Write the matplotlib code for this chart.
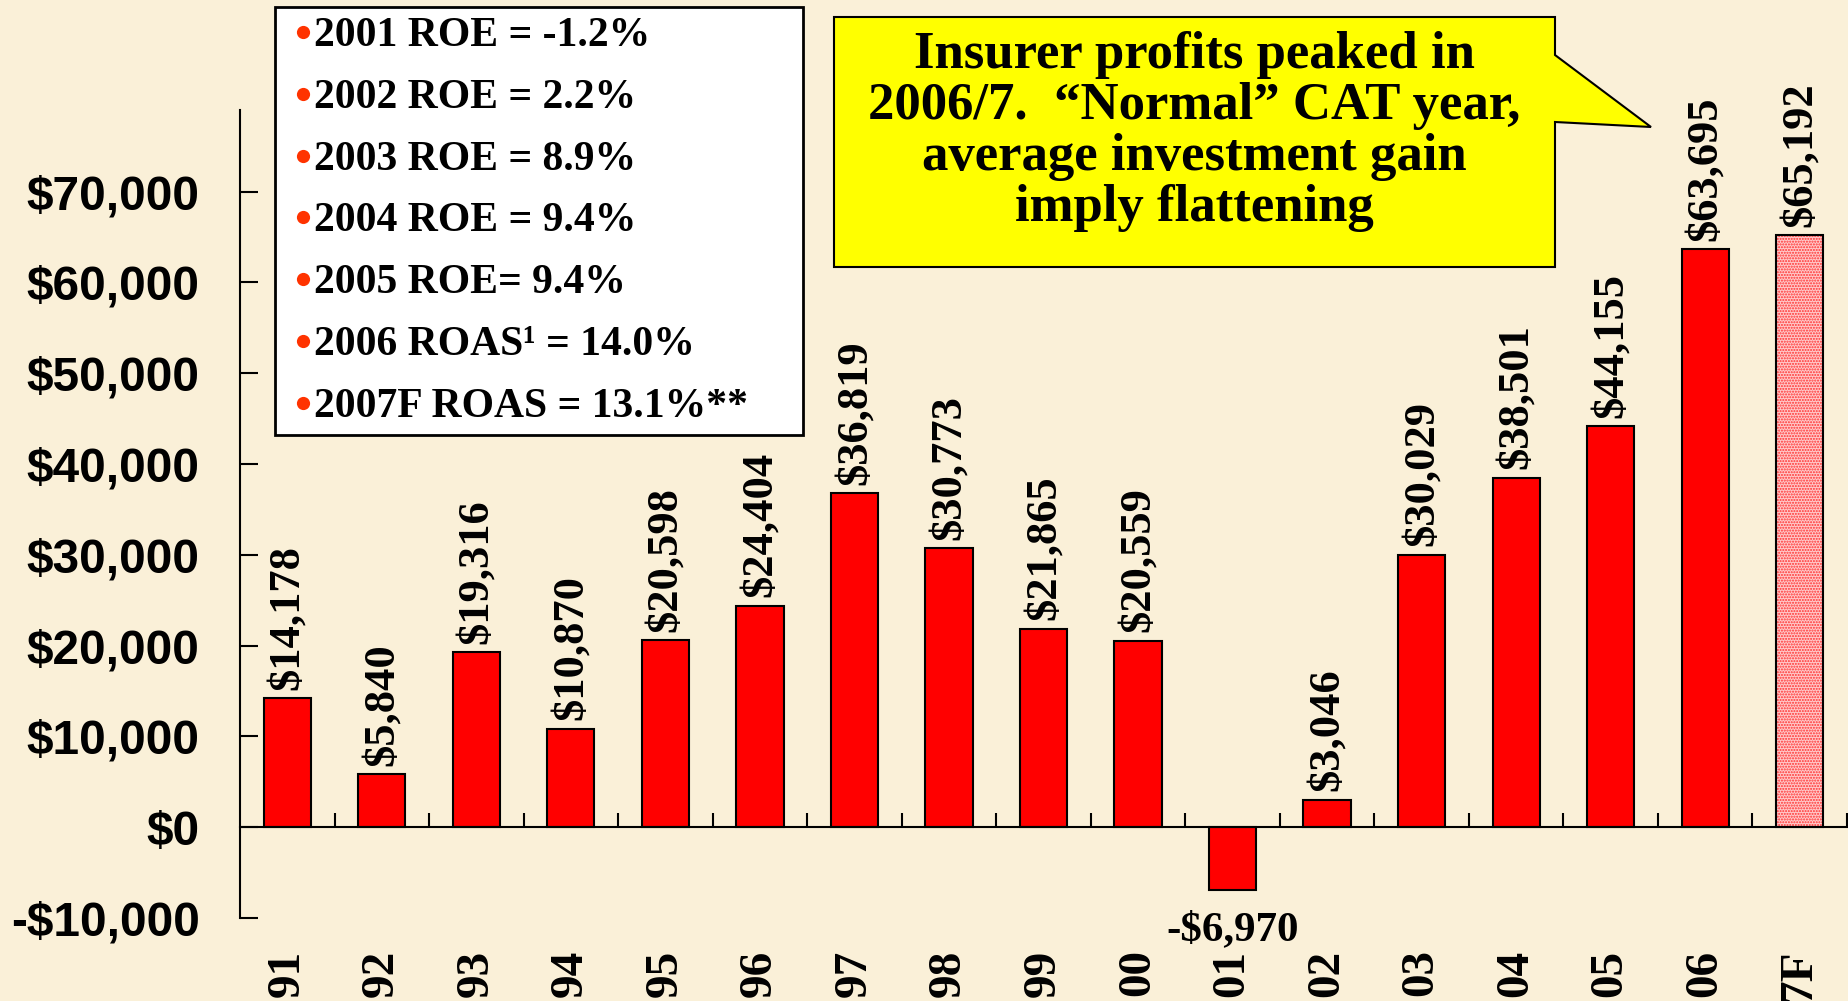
import matplotlib
matplotlib.use("Agg")
import numpy as np
import matplotlib.pyplot as plt
from matplotlib.patches import Polygon, Rectangle

# data
years = ["91", "92", "93", "94", "95", "96", "97", "98", "99", "00",
         "01", "02", "03", "04", "05", "06", "7F"]
profits = [14178, 5840, 19316, 10870, 20598, 24404, 36819, 30773, 21865,
           20559, -6970, 3046, 30029, 38501, 44155, 63695, 65192]
y_ticks = [-10000, 0, 10000, 20000, 30000, 40000, 50000, 60000, 70000]
roe_notes = ["2001 ROE = -1.2%", "2002 ROE = 2.2%", "2003 ROE = 8.9%",
             "2004 ROE = 9.4%", "2005 ROE= 9.4%", "2006 ROAS\u00b9 = 14.0%",
             "2007F ROAS = 13.1%**"]
callout_lines = ["Insurer profits peaked in",
                 "2006/7.  \u201cNormal\u201d CAT year,",
                 "average investment gain",
                 "imply flattening"]

SERIF = ["Liberation Serif", "DejaVu Serif"]
SANS = ["Liberation Sans", "DejaVu Sans"]
W, H = 1849, 1001


def money(v):
    return "-${:,}".format(-v) if v < 0 else "${:,}".format(v)


fig = plt.figure(figsize=(W / 100, H / 100), dpi=100)
fig.patch.set_facecolor("#faf0d8")

ax = fig.add_axes([240 / W, 83 / H, 1607 / W, 808 / H])
ax.set_facecolor("none")

x = np.arange(len(years))
ax.bar(x[:-1], profits[:-1], width=0.5, color="#ff0000",
       edgecolor="black", linewidth=1.5)
# forecast bar: dotted pink fill with black outline
ax.bar(x[-1], profits[-1], width=0.5, color="#ffcaca",
       edgecolor="#ff3030", hatch="......", linewidth=0)
ax.bar(x[-1], profits[-1], width=0.5, fill=False,
       edgecolor="black", linewidth=1.5)

for xi, v in zip(x, profits):
    if v >= 0:
        ax.annotate(money(v), (xi, v), xytext=(0, 6), textcoords="offset points",
                    rotation=90, ha="center", va="bottom", fontsize=32,
                    fontweight="bold", family=SERIF)
    else:
        ax.annotate(money(v), (xi, v), xytext=(0, -15), textcoords="offset points",
                    ha="center", va="top", fontsize=31,
                    fontweight="bold", family=SERIF)

ax.set_xlim(-0.5, len(years) - 0.5)
ax.set_ylim(-10000, 79000)

ax.spines["top"].set_visible(False)
ax.spines["right"].set_visible(False)
ax.spines["bottom"].set_position(("data", 0))
ax.spines["bottom"].set_linewidth(1.5)
ax.spines["left"].set_linewidth(1.5)

ax.set_xticks(x)
ax.set_xticklabels(years, rotation=90, fontsize=34, fontweight="bold", family=SERIF)
ax.set_xticks(x + 0.5, minor=True)
ax.tick_params(axis="x", which="major", length=0, pad=88)
ax.tick_params(axis="x", which="minor", direction="in", length=10, width=1.5)

ax.set_yticks(y_ticks)
ax.set_yticklabels([money(v) for v in y_ticks], fontsize=34.5,
                   fontweight="bold", family=SANS)
ax.tick_params(axis="y", direction="in", length=13, width=1.5, pad=29)

# overlay in pixel coordinates for the note box and callout
ov = fig.add_axes([0, 0, 1, 1])
ov.set_xlim(0, W)
ov.set_ylim(H, 0)
ov.axis("off")
ov.set_zorder(5)

ov.add_patch(Rectangle((275, 7), 528, 428, facecolor="white",
                       edgecolor="black", linewidth=2))
baselines = 46 + np.arange(len(roe_notes)) * 61.8
ov.plot(np.full(len(roe_notes), 303), baselines - 14, "o", ms=9.5,
        color="#ff3300", mec="none")
for yb, note in zip(baselines, roe_notes):
    ov.text(314, yb, note, fontsize=30, fontweight="bold",
            va="baseline", family=SERIF)

tail = [(834, 17), (1555, 17), (1555, 55), (1651, 127), (1555, 122),
        (1555, 267), (834, 267)]
ov.add_patch(Polygon(tail, closed=True, facecolor="#ffff00",
                     edgecolor="black", linewidth=1.5))
for i, line in enumerate(callout_lines):
    ov.text(1194, 68 + i * 51, line, fontsize=38, fontweight="bold",
            ha="center", va="baseline", family=SERIF)

fig.savefig("out.png", dpi=100, facecolor=fig.get_facecolor())
